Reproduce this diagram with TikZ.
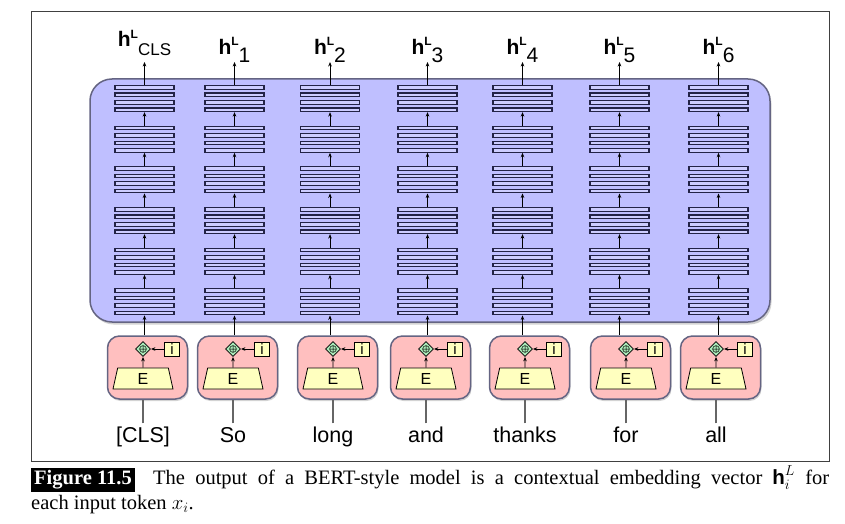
\documentclass[tikz,border=0pt]{standalone}
\usepackage{fontspec}
\setmainfont{Liberation Serif}
\setsansfont{Liberation Sans}
\usetikzlibrary{shapes.geometric,shadows,arrows.meta}
\definecolor{encfill}{RGB}{191,191,255}
\definecolor{boxline}{RGB}{100,100,130}
\definecolor{barline}{RGB}{35,35,70}
\definecolor{barfill}{RGB}{205,205,255}
\definecolor{embfill}{RGB}{255,191,191}
\definecolor{tokfill}{RGB}{255,255,191}
\definecolor{addfill}{RGB}{170,235,185}
\newcommand{\hout}[1]{\textbf{h}\raisebox{8.5pt}{\fontsize{12}{12}\selectfont\bfseries L}\raisebox{-8.5pt}{#1}}
\newcommand{\hcap}{$\textsf{\textbf{h}}^{L}_{i}$}

\begin{document}
\begin{tikzpicture}[x=1pt,y=-1pt,
    arr/.style={-{Stealth[length=4.5pt,width=3.6pt]},line width=0.9pt},
    frame/.style={draw=black!75,line width=1pt},
    encbox/.style={draw=boxline,fill=encfill,line width=1.5pt,rounded corners=22pt,
      minimum width=680pt,minimum height=243pt,inner sep=0pt,
      drop shadow={shadow xshift=1.5pt,shadow yshift=-2.5pt,opacity=0.35}},
    bar/.style={draw=barline,fill=barfill,line width=1.1pt,minimum width=59pt,
      minimum height=3.6pt,inner sep=0pt},
    embbox/.style={draw=boxline,fill=embfill,line width=1.5pt,rounded corners=12pt,
      minimum width=80pt,minimum height=63pt,inner sep=0pt,
      drop shadow={shadow xshift=1pt,shadow yshift=-2pt,opacity=0.35}},
    addnode/.style={diamond,draw=black,fill=addfill,line width=0.8pt,minimum width=15pt,
      minimum height=15pt,inner sep=0pt,
      path picture={\draw[line width=0.5pt] (path picture bounding box.center) circle (3.4pt)
        ++(-3.4pt,0pt) -- ++(6.8pt,0pt) ++(-3.4pt,-3.4pt) -- ++(0pt,6.8pt);}},
    posbox/.style={draw=black,fill=tokfill,line width=0.8pt,minimum width=15pt,
      minimum height=14pt,inner sep=0pt,font=\sffamily\fontsize{15}{15}\selectfont},
    tokbox/.style={trapezium,trapezium angle=67,trapezium stretches body,draw=black,
      fill=tokfill,line width=0.8pt,minimum width=60pt,minimum height=21pt,inner sep=0pt,
      font=\sffamily\fontsize{16}{16}\selectfont},
    word/.style={font=\sffamily\fontsize{21.5}{21.5}\selectfont,text height=15.5pt,
      text depth=4pt,inner sep=3pt},
    outlabel/.style={font=\sffamily\fontsize{21}{21}\selectfont,inner sep=0pt},
    tokline/.style={draw=black!60,line width=1.2pt},
    caption/.style={text width=798pt,align=justify,inner sep=0pt,
      font=\fontsize{20.5}{24.5}\selectfont}]
\useasboundingbox (0,0) rectangle (845,524);
\draw[frame] (31,12) rectangle (829,461);
\node[encbox] (enc) at (430,200.5) {};
\foreach \i/\s/\c/\w/\hsub/\hy in {0/144.5/143/{[CLS]}/{\fontsize{17}{17}\selectfont CLS}/46.7,
    1/234.5/233/So/1/54.3,2/330/333/long/2/54.3,3/427.5/426/and/3/54.3,
    4/522.5/525/thanks/4/54.3,5/619.5/626/for/5/54.3,6/718.5/716/all/6/54.3}{
  % encoder layers
  \foreach \g in {0,...,5}
    \foreach \k in {0,...,3}
      \node[bar] (bar\i-\g-\k) at (\s,{87.3+40.66*\g+7.5*\k}) {};
  \foreach \g [evaluate=\g as \h using {int(\g+1)}] in {0,...,4}
    \draw[arr] (bar\i-\h-0) -- (bar\i-\g-3);
  \coordinate (top\i) at (\s,62);
  \draw[arr] (bar\i-0-0) -- (top\i);
  \node[outlabel,anchor=base] (out\i) at (\s,\hy) {\hout{\hsub}};
  % input embedding
  \node[embbox] (emb\i) at (\c+4.5,367.5) {};
  \node[addnode] (add\i) at (\c,349) {};
  \node[posbox] (pos\i) at (\c+29,349) {i};
  \node[tokbox] (tok\i) at (\c,378.5) {E};
  \draw[arr] (tok\i) -- (add\i);
  \draw[arr] (pos\i) -- (add\i);
  \draw[arr] (emb\i.north -| bar\i-5-3) -- (bar\i-5-3);
  \node[word,anchor=base] (w\i) at (\c,442) {\w};
  \draw[tokline] (w\i) -- (w\i |- emb\i.south);
}
\node[caption,anchor=north west] (cap) at (31,465.5) {\noindent\colorbox{black}{\textcolor{white}{\bfseries Figure 11.5}}\hspace{0.9em}The output of a BERT-style model is a contextual embedding vector \hcap{} for\linebreak each input token $x_i$.};
\end{tikzpicture}
\end{document}
